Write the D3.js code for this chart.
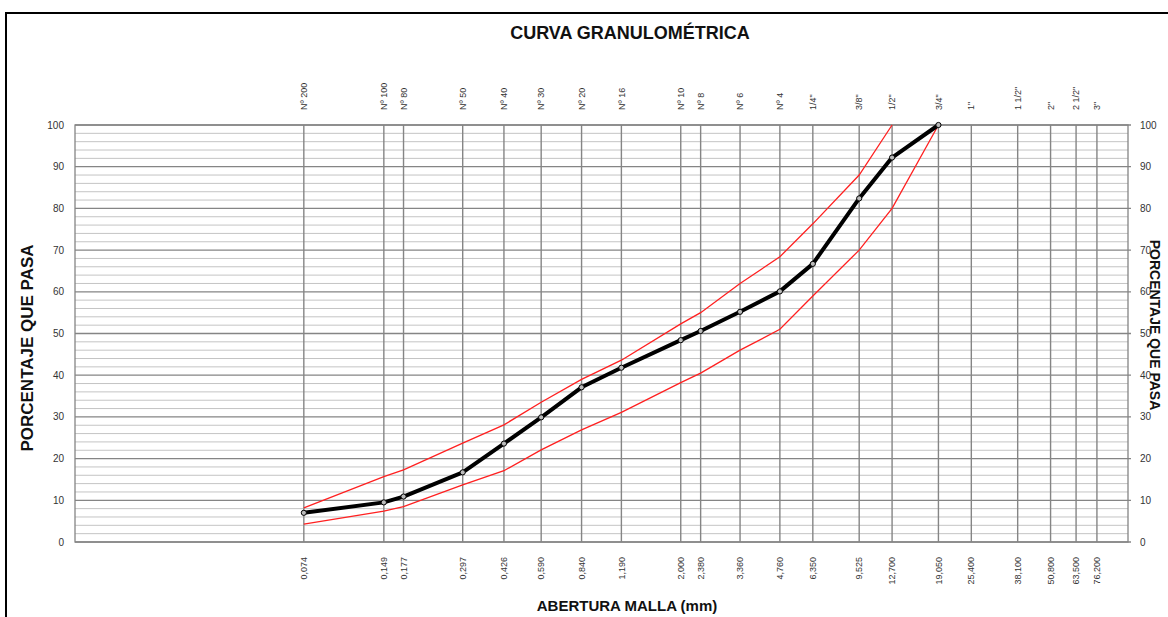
<!DOCTYPE html>
<html>
<head>
<meta charset="utf-8">
<script src="https://cdn.jsdelivr.net/npm/d3@7"></script>
<style>
  body { margin: 0; background: #fff; }
  text { font-family: "Liberation Sans", Arial, sans-serif; }
</style>
</head>
<body>
<script>
// sieve openings (mm) and names
const openings = [0.074, 0.149, 0.177, 0.297, 0.426, 0.590, 0.840, 1.190, 2.000, 2.380, 3.360, 4.760, 6.350, 9.525, 12.700, 19.050, 25.400, 38.100, 50.800, 63.500, 76.200]
const sieveNames = ['Nº 200', 'Nº 100', 'Nº 80', 'Nº 50', 'Nº 40', 'Nº 30', 'Nº 20', 'Nº 16', 'Nº 10', 'Nº 8', 'Nº 6', 'Nº 4', '1/4"', '3/8"', '1/2"', '3/4"', '1"', '1 1/2"', '2"', '2 1/2"', '3"']
const openingLabels = ['0,074', '0,149', '0,177', '0,297', '0,426', '0,590', '0,840', '1,190', '2,000', '2,380', '3,360', '4,760', '6,350', '9,525', '12,700', '19,050', '25,400', '38,100', '50,800', '63,500', '76,200']

// sample curve (% passing)
const sampleSizes = [0.074, 0.149, 0.177, 0.297, 0.426, 0.590, 0.840, 1.190, 2.000, 2.380, 3.360, 4.760, 6.350, 9.525, 12.700, 19.050]
const samplePass = [7.0, 9.5, 10.9, 16.7, 23.6, 29.9, 37.1, 41.8, 48.4, 50.6, 55.2, 60.1, 66.7, 82.4, 92.2, 100]

// spec limits
const upperSizes = [0.074, 0.149, 0.177, 0.297, 0.426, 0.590, 0.840, 1.190, 2.000, 2.380, 3.360, 4.760, 6.350, 9.525, 12.700]
const upperPass = [8.2, 15.7, 17.3, 23.7, 28.1, 33.5, 39.0, 43.6, 52.3, 55.0, 62.0, 68.4, 76.3, 88.0, 100]
const lowerSizes = [0.074, 0.149, 0.177, 0.297, 0.426, 0.590, 0.840, 1.190, 2.000, 2.380, 3.360, 4.760, 6.350, 9.525, 12.700, 19.050]
const lowerPass = [4.3, 7.4, 8.5, 13.7, 17.1, 22.1, 26.9, 31.1, 38.2, 40.5, 46.0, 51.0, 59.0, 70.0, 80.0, 100]

const yTicks = d3.range(0, 101, 10)
const yMinor = d3.range(0, 101, 2)

const W = 1168, H = 617
const svg = d3.select('body').append('svg')
  .attr('width', W)
  .attr('height', H)

// outer frame
svg.append('rect')
  .attr('x', 6).attr('y', 13)
  .attr('width', W + 20).attr('height', H + 20)
  .attr('fill', 'none')
  .attr('stroke', '#000')
  .attr('stroke-width', 2)

const x = d3.scaleLog().domain([0.01, 100]).range([75, 1128])
const y = d3.scaleLinear().domain([0, 100]).range([542, 125])

const grid = svg.append('g')

grid.selectAll('.minor')
  .data(yMinor.filter(d => d % 10 !== 0))
  .join('line')
  .attr('x1', x(0.01)).attr('x2', x(100))
  .attr('y1', d => y(d)).attr('y2', d => y(d))
  .attr('stroke', '#c4c4c4')
  .attr('stroke-width', 1)

grid.selectAll('.major')
  .data(yTicks)
  .join('line')
  .attr('x1', x(0.01)).attr('x2', x(100) + 3)
  .attr('y1', d => y(d)).attr('y2', d => y(d))
  .attr('stroke', '#858585')
  .attr('stroke-width', 1.3)

grid.selectAll('.vert')
  .data(openings)
  .join('line')
  .attr('x1', d => x(d)).attr('x2', d => x(d))
  .attr('y1', y(100)).attr('y2', y(0))
  .attr('stroke', '#858585')
  .attr('stroke-width', 1.4)

grid.append('rect')
  .attr('x', x(0.01)).attr('y', y(100))
  .attr('width', x(100) - x(0.01)).attr('height', y(0) - y(100))
  .attr('fill', 'none')
  .attr('stroke', '#858585')
  .attr('stroke-width', 1.3)

// y axis labels
svg.selectAll('.yl')
  .data(yTicks)
  .join('text')
  .attr('x', 64).attr('y', d => y(d))
  .attr('dy', '0.35em')
  .attr('text-anchor', 'end')
  .attr('font-size', 10)
  .attr('fill', '#333')
  .text(d => d)

svg.selectAll('.yr')
  .data(yTicks)
  .join('text')
  .attr('x', 1140).attr('y', d => y(d))
  .attr('dy', '0.35em')
  .attr('font-size', 10)
  .attr('fill', '#333')
  .text(d => d)

// sieve names on top
svg.selectAll('.sieve')
  .data(openings)
  .join('text')
  .attr('transform', (d, i) => `translate(${x(d)},110) rotate(-90)`)
  .attr('dy', '0.35em')
  .attr('font-size', 9)
  .attr('fill', '#333')
  .text((d, i) => sieveNames[i])

// openings at bottom
svg.selectAll('.open')
  .data(openings)
  .join('text')
  .attr('transform', d => `translate(${x(d)},557) rotate(-90)`)
  .attr('dy', '0.35em')
  .attr('text-anchor', 'end')
  .attr('font-size', 9)
  .attr('fill', '#333')
  .text((d, i) => openingLabels[i])

const line = d3.line().x(d => x(d[0])).y(d => y(d[1]))

svg.append('path')
  .datum(d3.zip(upperSizes, upperPass))
  .attr('d', line)
  .attr('fill', 'none')
  .attr('stroke', '#ff2020')
  .attr('stroke-width', 1.3)

svg.append('path')
  .datum(d3.zip(lowerSizes, lowerPass))
  .attr('d', line)
  .attr('fill', 'none')
  .attr('stroke', '#ff2020')
  .attr('stroke-width', 1.3)

const sample = d3.zip(sampleSizes, samplePass)
svg.append('path')
  .datum(sample)
  .attr('d', line)
  .attr('fill', 'none')
  .attr('stroke', '#000')
  .attr('stroke-width', 4)
  .attr('stroke-linejoin', 'round')

svg.selectAll('.pt')
  .data(sample)
  .join('circle')
  .attr('cx', d => x(d[0]))
  .attr('cy', d => y(d[1]))
  .attr('r', 2.6)
  .attr('fill', '#bbb')
  .attr('stroke', '#000')
  .attr('stroke-width', 1)

// titles
svg.append('text')
  .attr('x', 630).attr('y', 39)
  .attr('text-anchor', 'middle')
  .attr('font-size', 18)
  .attr('font-weight', 'bold')
  .attr('fill', '#111')
  .text('CURVA GRANULOMÉTRICA')

svg.append('text')
  .attr('x', 627).attr('y', 611)
  .attr('text-anchor', 'middle')
  .attr('font-size', 15)
  .attr('font-weight', 'bold')
  .attr('fill', '#111')
  .text('ABERTURA MALLA (mm)')

svg.append('text')
  .attr('transform', 'translate(27,348) rotate(-90)')
  .attr('dy', '0.35em')
  .attr('text-anchor', 'middle')
  .attr('font-size', 17)
  .attr('font-weight', 'bold')
  .attr('fill', '#111')
  .text('PORCENTAJE QUE PASA')

svg.append('text')
  .attr('transform', 'translate(1155,325) rotate(90)')
  .attr('dy', '0.35em')
  .attr('text-anchor', 'middle')
  .attr('font-size', 14)
  .attr('font-weight', 'bold')
  .attr('fill', '#111')
  .text('PORCENTAJE QUE PASA')
</script>
</body>
</html>
